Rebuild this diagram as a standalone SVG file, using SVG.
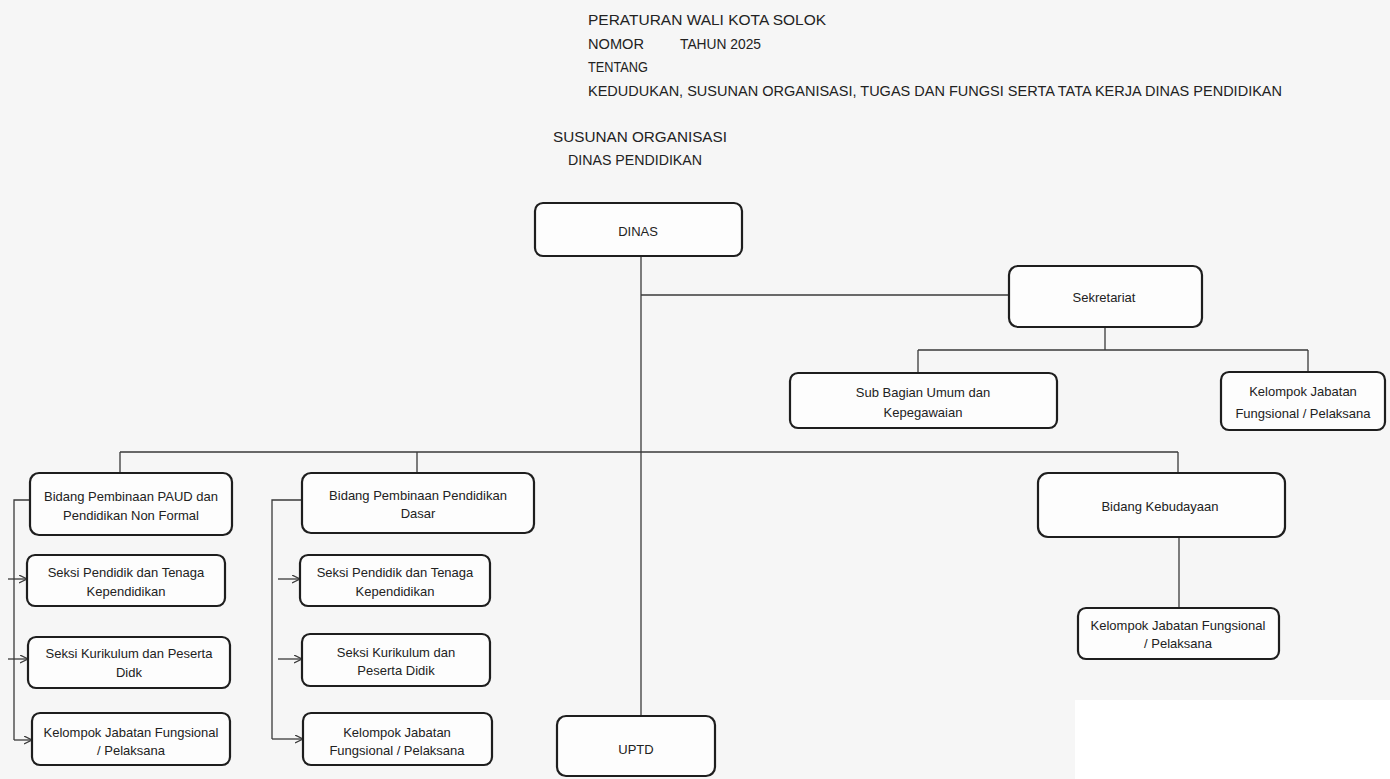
<svg xmlns="http://www.w3.org/2000/svg" width="1390" height="779" viewBox="0 0 1390 779">
<style>
.bg{fill:#f6f6f6}
.box{fill:#fdfdfd;stroke:#1e1e1e;stroke-width:2.2}
.t{font-family:"Liberation Sans",Arial,sans-serif;font-size:13px;fill:#222;text-anchor:middle;dominant-baseline:central}
.h{font-family:"Liberation Sans",Arial,sans-serif;font-size:14px;fill:#222}
.c{fill:none;stroke:#3a3a3a;stroke-width:1.3}
.a{fill:none;stroke:#3a3a3a;stroke-width:1.3;marker-end:url(#arr)}
</style>
<defs>
<marker id="arr" markerWidth="10" markerHeight="10" refX="8" refY="4" orient="auto" markerUnits="userSpaceOnUse">
<path d="M0,0 L8,4 L0,8" fill="none" stroke="#3a3a3a" stroke-width="1.3"/>
</marker>
</defs>
<rect class="bg" x="0" y="0" width="1390" height="779"/>
<rect x="1075" y="700" width="315" height="79" fill="#ffffff"/>

<g id="header">
<text class="h" x="588" y="25" textLength="238" lengthAdjust="spacingAndGlyphs">PERATURAN WALI KOTA  SOLOK</text>
<text class="h" x="588" y="49" textLength="56" lengthAdjust="spacingAndGlyphs">NOMOR</text>
<text class="h" x="680" y="49" textLength="81" lengthAdjust="spacingAndGlyphs">TAHUN 2025</text>
<text class="h" x="588" y="72" textLength="60" lengthAdjust="spacingAndGlyphs">TENTANG</text>
<text class="h" x="588" y="96" textLength="694" lengthAdjust="spacingAndGlyphs">KEDUDUKAN, SUSUNAN ORGANISASI, TUGAS DAN FUNGSI SERTA TATA KERJA DINAS PENDIDIKAN</text>
<text class="h" x="553" y="142" textLength="174" lengthAdjust="spacingAndGlyphs">SUSUNAN ORGANISASI</text>
<text class="h" x="568" y="165" textLength="134" lengthAdjust="spacingAndGlyphs">DINAS PENDIDIKAN</text>
</g>

<g id="connectors">
<path class="c" d="M641,256 V716"/>
<path class="c" d="M641,295 H1009"/>
<path class="c" d="M1105,327 V350 M918,350 H1308 M918,350 V373 M1308,350 V372"/>
<path class="c" d="M120,452 H1178 M120,452 V473 M417,452 V473 M1178,452 V473"/>
<path class="c" d="M1179,537 V608"/>
<path class="c" d="M30,500 H14 V740"/>
<path class="a" d="M8,579 H27"/>
<path class="a" d="M8,659 H28"/>
<path class="a" d="M14,740 H32"/>
<path class="c" d="M302,500 H272 V739"/>
<path class="a" d="M278,579 H300"/>
<path class="a" d="M278,659 H302"/>
<path class="a" d="M272,739 H303"/>
</g>

<g id="dinas"><rect class="box" x="535" y="203" width="207" height="53" rx="8"/><text class="t" x="638" y="231">DINAS</text></g>
<g id="sekretariat"><rect class="box" x="1009" y="266" width="193" height="61" rx="9"/><text class="t" x="1104" y="297">Sekretariat</text></g>
<g id="subbag"><rect class="box" x="790" y="373" width="267" height="55" rx="8"/><text class="t" x="923" y="392">Sub Bagian Umum dan</text><text class="t" x="923" y="412">Kepegawaian</text></g>
<g id="kjf-sek"><rect class="box" x="1221" y="372" width="164" height="58" rx="8"/><text class="t" x="1303" y="391">Kelompok Jabatan</text><text class="t" x="1303" y="413">Fungsional / Pelaksana</text></g>

<g id="bidang-paud"><rect class="box" x="30" y="473" width="202" height="62" rx="9"/><text class="t" x="131" y="496">Bidang Pembinaan PAUD dan</text><text class="t" x="131" y="515">Pendidikan Non Formal</text></g>
<g id="seksi-ptk-paud"><rect class="box" x="27" y="555" width="198" height="51" rx="8"/><text class="t" x="126" y="572">Seksi  Pendidik dan Tenaga</text><text class="t" x="126" y="591">Kependidikan</text></g>
<g id="seksi-kur-paud"><rect class="box" x="28" y="637" width="202" height="51" rx="8"/><text class="t" x="129" y="653">Seksi Kurikulum dan Peserta</text><text class="t" x="129" y="672">Didk</text></g>
<g id="kjf-paud"><rect class="box" x="32" y="713" width="198" height="52" rx="8"/><text class="t" x="131" y="732">Kelompok Jabatan Fungsional</text><text class="t" x="131" y="750">/ Pelaksana</text></g>

<g id="bidang-dasar"><rect class="box" x="302" y="473" width="232" height="60" rx="9"/><text class="t" x="418" y="495">Bidang Pembinaan Pendidikan</text><text class="t" x="418" y="513">Dasar</text></g>
<g id="seksi-ptk-dasar"><rect class="box" x="300" y="555" width="190" height="51" rx="8"/><text class="t" x="395" y="572">Seksi  Pendidik dan Tenaga</text><text class="t" x="395" y="591">Kependidikan</text></g>
<g id="seksi-kur-dasar"><rect class="box" x="302" y="634" width="188" height="52" rx="8"/><text class="t" x="396" y="652">Seksi Kurikulum dan</text><text class="t" x="396" y="670">Peserta Didik</text></g>
<g id="kjf-dasar"><rect class="box" x="303" y="713" width="189" height="52" rx="8"/><text class="t" x="397" y="732">Kelompok Jabatan</text><text class="t" x="397" y="750">Fungsional / Pelaksana</text></g>

<g id="bidang-kebudayaan"><rect class="box" x="1038" y="473" width="247" height="64" rx="10"/><text class="t" x="1160" y="506">Bidang Kebudayaan</text></g>
<g id="kjf-kebudayaan"><rect class="box" x="1078" y="608" width="201" height="51" rx="8"/><text class="t" x="1178" y="625">Kelompok Jabatan Fungsional</text><text class="t" x="1178" y="643">/ Pelaksana</text></g>

<g id="uptd"><rect class="box" x="557" y="716" width="158" height="60" rx="9"/><text class="t" x="636" y="749">UPTD</text></g>
</svg>
